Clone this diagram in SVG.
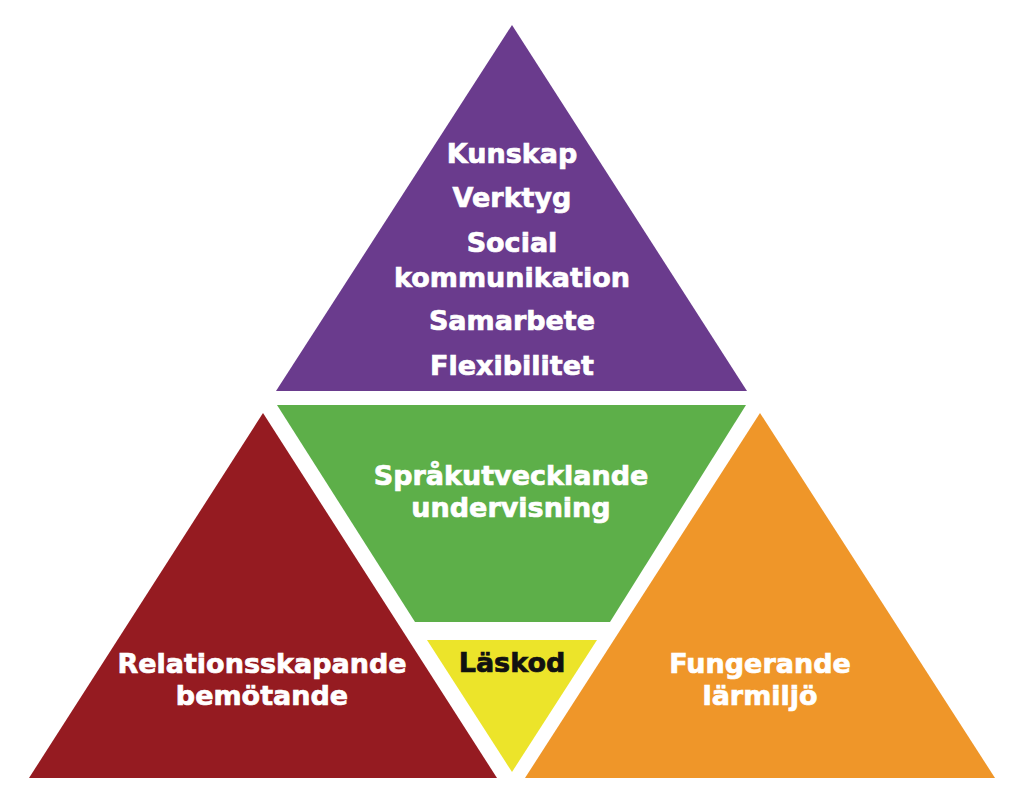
<svg xmlns="http://www.w3.org/2000/svg" width="1024" height="796" viewBox="0 0 1024 796">
  <style>
    .t { font-family: "DejaVu Sans", "Liberation Sans", sans-serif; font-weight: bold; font-size: 27px; text-anchor: middle; fill: #ffffff; stroke: #ffffff; stroke-width: 0.7px; }
    .dark { fill: #111111; stroke: #111111; }
  </style>
  <rect width="1024" height="796" fill="#ffffff"/>
  <g id="top">
    <polygon points="512,25 276,391 747,391" fill="#6a3b8d"/>
    <text class="t" x="512" y="163">Kunskap</text>
    <text class="t" x="512" y="207">Verktyg</text>
    <text class="t" x="512" y="252">Social</text>
    <text class="t" x="512" y="287">kommunikation</text>
    <text class="t" x="512" y="330">Samarbete</text>
    <text class="t" x="512" y="375">Flexibilitet</text>
  </g>
  <g id="middle">
    <polygon points="277,405 746,405 610,622 415,622" fill="#5daf49"/>
    <text class="t" x="511" y="485">Språkutvecklande</text>
    <text class="t" x="511" y="517">undervisning</text>
  </g>
  <g id="center">
    <polygon points="427,640 597,640 512,772" fill="#ece42a"/>
    <text class="t dark" x="512" y="672">Läskod</text>
  </g>
  <g id="left">
    <polygon points="263,413 29,778 497,778" fill="#951b21"/>
    <text class="t" x="262" y="673">Relationsskapande</text>
    <text class="t" x="262" y="705">bemötande</text>
  </g>
  <g id="right">
    <polygon points="760,413 525,778 995,778" fill="#ef9629"/>
    <text class="t" x="760" y="673">Fungerande</text>
    <text class="t" x="760" y="705">lärmiljö</text>
  </g>
  <g id="connectors"/>
</svg>
